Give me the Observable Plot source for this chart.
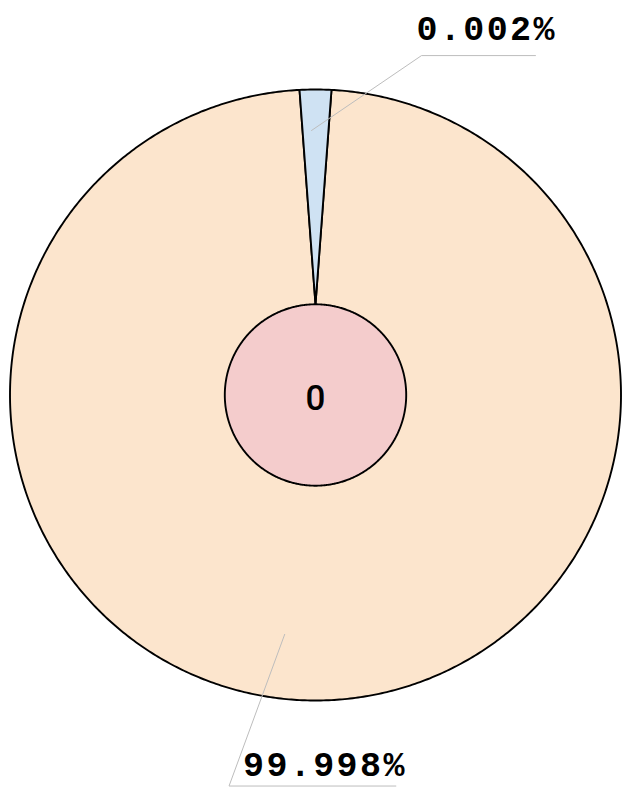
<!DOCTYPE html>
<html>
<head>
<meta charset="utf-8">
<script src="https://cdn.jsdelivr.net/npm/d3@7"></script>
<script src="https://cdn.jsdelivr.net/npm/@observablehq/plot@0.6"></script>
<style>
  html, body { margin: 0; padding: 0; background: #ffffff; }
  #chart svg { display: block; }
</style>
</head>
<body>
<div id="chart"></div>
<script>
// ---- data ----
const sliceNames = ["A", "B"];
const sliceValues = [0.002, 99.998];
const sliceLabels = ["0.002%", "99.998%"];
const centerLabel = "0";

// ---- layout (styles/geometry, not data) ----
const W = 629, H = 792;
const CX = 315, CY = 394.5, RPX = 305.5;   // pixel centre & radius
const rInner = 90.7 / RPX;                  // inner circle radius (data units)
const minAngle = 6 * Math.PI / 180;         // minimum visible slice angle
const colors = ["#cfe2f3", "#fce5cd"];
const centerColor = "#f4cccc";

// pie angles (0 = top, clockwise), small slice padded to minAngle
const total = d3.sum(sliceValues);
let angs = sliceValues.map(v => Math.max(minAngle, v / total * 2 * Math.PI));
const rest = 2 * Math.PI - d3.sum(angs.filter(a => a === minAngle));
const bigSum = d3.sum(sliceValues.filter((v, i) => angs[i] !== minAngle));
angs = angs.map((a, i) => a === minAngle ? a : sliceValues[i] / bigSum * rest);
let start = -angs[0] / 2;
const slices = sliceNames.map((name, i) => {
  const s = start, e = start + angs[i];
  start = e;
  return {name, value: sliceValues[i], label: sliceLabels[i], start: s, end: e, mid: (s + e) / 2, color: colors[i]};
});

const polar = (a, r) => ({x: r * Math.sin(a), y: r * Math.cos(a)});

// wedge polygons: apex at the top of the inner circle, outer arc
function wedge(s) {
  const pts = [{x: 0, y: rInner}];
  const n = Math.max(4, Math.ceil((s.end - s.start) / (Math.PI / 360)));
  for (let k = 0; k <= n; k++) pts.push(polar(s.start + (s.end - s.start) * k / n, 1));
  pts.push({x: 0, y: rInner});
  return pts;
}
function circle(r) {
  return d3.range(0, 721).map(k => polar(k / 720 * 2 * Math.PI, r));
}

// leader lines (label layout)
const leaderCfg = [
  {da: -0.015, r0: 0.866, elbow: [0.347, 1.111], end: [0.72, 1.111], text: [0.3305, 1.1604]},
  {da: 0.128, r0: 0.790, elbow: [-0.283, -1.280], end: [0.263, -1.280], text: [-0.2373, -1.2455]}
];
const leaders = slices.map((s, i) => {
  const c = leaderCfg[i];
  const p0 = polar(s.mid + c.da, c.r0);
  return {
    pts: [p0, {x: c.elbow[0], y: c.elbow[1]}, {x: c.end[0], y: c.end[1]}],
    tx: c.text[0], ty: c.text[1], label: s.label
  };
});

const xDom = [-CX / RPX, (W - CX) / RPX];
const yDom = [-(H - CY) / RPX, CY / RPX];

const marks = [];
[...slices].sort((a, b) => b.value - a.value).forEach(s => {
  marks.push(Plot.line(wedge(s), {x: "x", y: "y", fill: s.color, stroke: "#000", strokeWidth: 1.9, curve: "linear-closed", strokeLinejoin: "round"}));
});
marks.push(Plot.line(circle(rInner), {x: "x", y: "y", fill: centerColor, stroke: "#000", strokeWidth: 1.9, curve: "linear-closed"}));
leaders.forEach(l => {
  marks.push(Plot.line(l.pts, {x: "x", y: "y", stroke: "#bdbdbd", strokeWidth: 1}));
});
marks.push(Plot.text(leaders, {
  x: "tx", y: "ty", text: "label", textAnchor: "start", lineAnchor: "bottom",
  fontSize: 35, fontWeight: "bold", fontFamily: "'Liberation Mono', monospace", fill: "#000"
}));
marks.push(Plot.text([centerLabel], {
  x: () => 0, y: () => -0.0475, text: d => d, textAnchor: "middle", lineAnchor: "bottom",
  fontSize: 35, fontWeight: 500, fontFamily: "Roboto, 'Liberation Sans', Arial, sans-serif", fill: "#000"
}));

const chart = Plot.plot({
  width: W, height: H, margin: 0,
  style: {background: "#ffffff", overflow: "visible"},
  x: {domain: xDom, axis: null},
  y: {domain: yDom, axis: null},
  marks
});
d3.select(chart).selectAll("text")
  .filter(function () { return this.textContent.includes("%"); })
  .style("letter-spacing", "2.4px");
document.getElementById("chart").appendChild(chart);
</script>
</body>
</html>
